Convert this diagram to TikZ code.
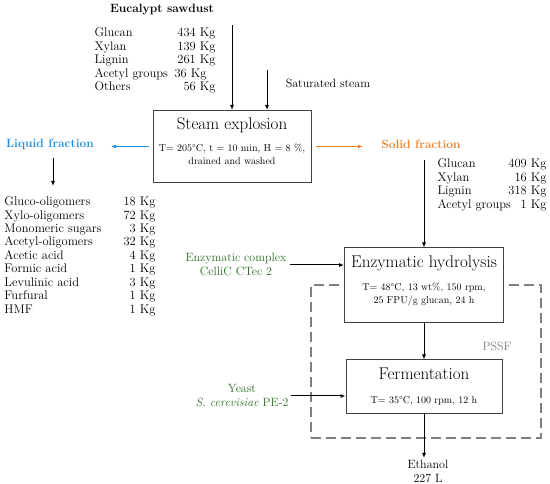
\documentclass[tikz,border=0pt]{standalone}
\usetikzlibrary{arrows.meta}
\definecolor{liqblue}{RGB}{30,144,225}
\definecolor{solorange}{RGB}{244,128,40}
\definecolor{enzgreen}{RGB}{40,110,30}
\definecolor{boxgray}{RGB}{64,64,64}
\definecolor{pssfgray}{RGB}{128,128,128}
\begin{document}
\begin{tikzpicture}[x=1pt,y=-1pt,>={Latex[length=5pt,width=4pt]},
        line width=1pt,
        step box/.style={draw=boxgray,fill=white,line width=1pt,inner sep=0pt},
        title node/.style={font=\fontsize{17}{19}\selectfont},
        param node/.style={font=\fontsize{10}{13}\selectfont,align=center},
        list node/.style={font=\fontsize{12.5}{13.5}\selectfont,inner sep=0pt},
        plain node/.style={font=\fontsize{12}{13.5}\selectfont,align=center},
        head node/.style={font=\fontsize{12}{14}\selectfont\bfseries}]
      \useasboundingbox (0,0) rectangle (550,484);
      % feed (list nodes sit on the baseline of their last row)
      \node[head node] (saw) at (162,10) {Eucalypt sawdust};
      \node[list node,align=left,anchor=base west] (sawnames) at (94,91)
           {Glucan\\Xylan\\Lignin\\Acetyl groups\\Others};
      \node[list node,align=right,anchor=base east] (sawvals) at (216,91)
           {434 Kg\\139 Kg\\261 Kg\\36 Kg\kern9pt\\56 Kg};
      \node[plain node,anchor=west] (steam) at (282,83) {Saturated steam};
      \coordinate (sawin) at (232,25);
      \coordinate (steamin) at (267,70);
      % dashed PSSF frame
      \node[draw=pssfgray,line width=1.2pt,dash pattern=on 10pt off 5pt,
           minimum width=230pt,minimum height=153pt] (pssf) at (426,361.5) {};
      \node[plain node,text=pssfgray] (pssflab) at (497,346) {PSSF};
      % process boxes
      \node[step box,minimum width=158pt,minimum height=72pt] (SE) at (232,146.5) {};
      \node[title node] (SEt) at (232,125) {Steam explosion};
      \node[param node] (SEp) at (232,154.5) {T= 205°C, t = 10 min, H = 8 \%,\\drained and washed};
      \node[step box,minimum width=159pt,minimum height=75pt] (HYD) at (424,285.5) {};
      \node[title node] (HYDt) at (424,263) {Enzymatic hydrolysis};
      \node[param node] (HYDp) at (424,294.5) {T= 48°C, 13 wt\%, 150 rpm,\\25 FPU/g glucan, 24 h};
      \node[step box,minimum width=156pt,minimum height=54pt] (FER) at (424,387) {};
      \node[title node] (FERt) at (424,374) {Fermentation};
      \node[param node] (FERp) at (424,401) {T= 35°C, 100 rpm, 12 h};
      % fractions
      \node[head node,text=liqblue] (LIQ) at (50,144) {Liquid fraction};
      \node[head node,text=solorange] (SOL) at (421,144) {Solid fraction};
      \coordinate (liqtip) at (111,146.5);
      \coordinate (soltip) at (363,146.5);
      \coordinate (liqtop) at (53,158);
      \coordinate (liqbot) at (53,186);
      \coordinate (soltop) at (424,160);
      \node[list node,align=left,anchor=base west] (liqnames) at (4,313.5)
           {Gluco-oligomers\\Xylo-oligomers\\Monomeric sugars\\Acetyl-oligomers\\Acetic acid\\Formic acid\\Levulinic acid\\Furfural\\HMF};
      \node[list node,align=right,anchor=base east] (liqvals) at (156,313.5)
           {18 Kg\\72 Kg\\3 Kg\\32 Kg\\4 Kg\\1 Kg\\3 Kg\\1 Kg\\1 Kg};
      \node[list node,align=left,anchor=base west] (solnames) at (437,208.5)
           {Glucan\\Xylan\\Lignin\\Acetyl groups};
      \node[list node,align=right,anchor=base east] (solvals) at (547,208.5)
           {409 Kg\\16 Kg\\318 Kg\\1 Kg};
      % inputs and product
      \node[plain node,text=enzgreen] (ENZ) at (236,264.5) {Enzymatic complex\\CelliC CTec 2};
      \node[plain node,text=enzgreen] (YST) at (242,395.5) {Yeast\\\textit{S. cerevisiae} PE-2};
      \coordinate (enzin) at (290,265);
      \coordinate (ystin) at (291,396);
      \node[plain node] (ETH) at (428,471.5) {Ethanol\\227 L};
      \coordinate (ethtip) at (428,458);
           \path[->]
           (sawin) edge (SE.north)
           (steamin) edge (steamin |- SE.north)
           ([xshift=-4pt]SE.west) edge [liqblue,line width=1.2pt] (liqtip)
           ([xshift=4pt]SE.east) edge [solorange,line width=1.2pt] (soltip)
           (liqtop) edge (liqbot)
           (soltop) edge (HYD.north)
           (enzin) edge (enzin -| HYD.west)
           (HYD.south) edge (FER.north)
           (ystin) edge (ystin -| FER.west)
           (FER.south) edge (FER.south |- ethtip);
    \end{tikzpicture}
\end{document}
